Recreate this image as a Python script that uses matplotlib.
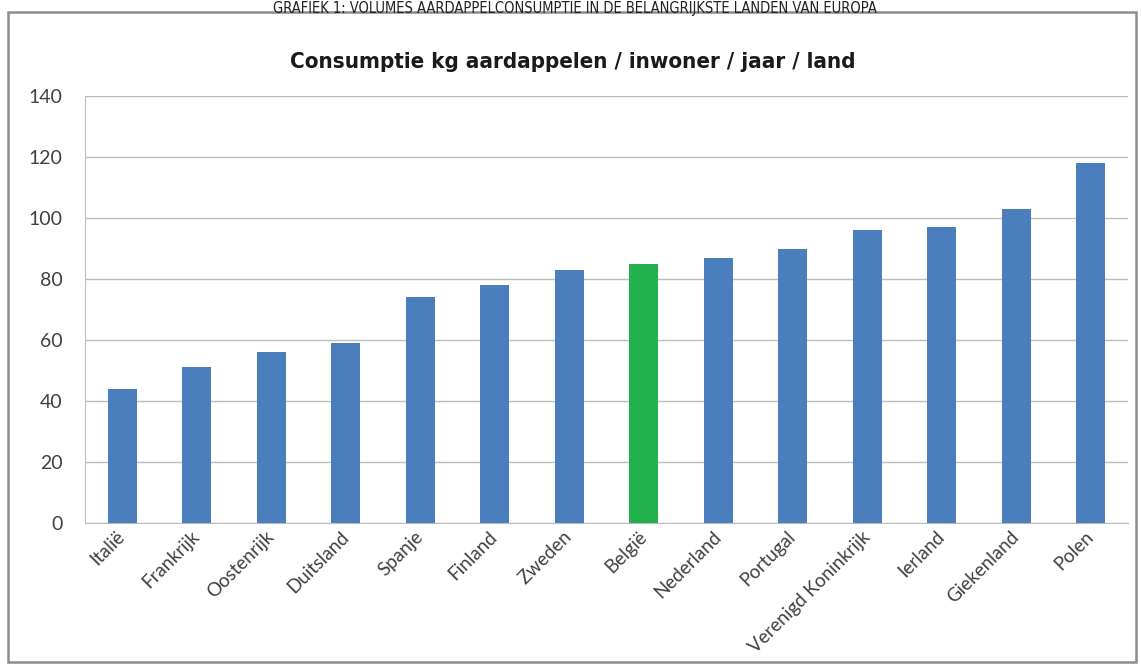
import matplotlib
matplotlib.use("Agg")
import matplotlib.pyplot as plt
from matplotlib.patches import Rectangle
from matplotlib.transforms import ScaledTranslation
from matplotlib import font_manager

countries = ["Italië", "Frankrijk", "Oostenrijk", "Duitsland", "Spanje", "Finland",
             "Zweden", "België", "Nederland", "Portugal", "Verenigd Koninkrijk",
             "Ierland", "Giekenland", "Polen"]
values = [44, 51, 56, 59, 74, 78, 83, 85, 87, 90, 96, 97, 103, 118]
highlight = "België"
yticks = [0, 20, 40, 60, 80, 100, 120, 140]

title = "Consumptie kg aardappelen / inwoner / jaar / land"
caption = "GRAFIEK 1: VOLUMES AARDAPPELCONSUMPTIE IN DE BELANGRIJKSTE LANDEN VAN EUROPA"

names = {f.name for f in font_manager.fontManager.ttflist}
body = "Lato" if "Lato" in names else "DejaVu Sans"

W, H = 1141, 664
fig = plt.figure(figsize=(W / 100, H / 100), dpi=100)
fig.patch.set_facecolor("white")

# outer frame
fig.patches.append(Rectangle((8 / W, 1 - 662 / H), (1136 - 8) / W, (662 - 12) / H,
                             transform=fig.transFigure, fill=False,
                             edgecolor="#8c8c8c", linewidth=1.8))

# caption
fig.text(575 / W, 1 - 0.5 / H, caption, ha="center", va="top",
         fontsize=10.5, family="DejaVu Sans", fontstretch="condensed", color="#222222")

ax = fig.add_axes([85 / W, 1 - 523 / H, (1128 - 85) / W, (523 - 96) / H])
colors = ["#22b14c" if c == highlight else "#4a7ebd" for c in countries]
x = list(range(len(countries)))
ax.bar(x, values, width=0.39, color=colors, zorder=3)
ax.set_xlim(-0.5, len(countries) - 0.5)
ax.set_ylim(0, 140)
ax.set_yticks(yticks)
ax.set_yticklabels([str(v) for v in yticks], fontsize=14, family=body, color="#404040")
ax.set_xticks(x)
ax.set_xticklabels(countries, rotation=45, ha="right", va="center", rotation_mode="anchor",
                   fontsize=13.5, family=body, color="#404040")
off = ScaledTranslation(13 / 100, -5 / 100, fig.dpi_scale_trans)
for lbl in ax.get_xticklabels():
    lbl.set_transform(lbl.get_transform() + off)
ax.tick_params(axis="both", length=0, pad=8)
ax.tick_params(axis="y", pad=16)
ax.yaxis.grid(True, color="#bdbdbd", linewidth=1, zorder=0)
for s in ["top", "right"]:
    ax.spines[s].set_visible(False)
ax.spines["left"].set_color("#bdbdbd")
ax.spines["bottom"].set_color("#bdbdbd")

fig.text(573 / W, 1 - 62 / H, title, ha="center", va="center",
         fontsize=16, fontweight="bold", family="DejaVu Sans", fontstretch="condensed",
         color="#1a1a1a")

fig.savefig("out.png", dpi=100, facecolor="white")
